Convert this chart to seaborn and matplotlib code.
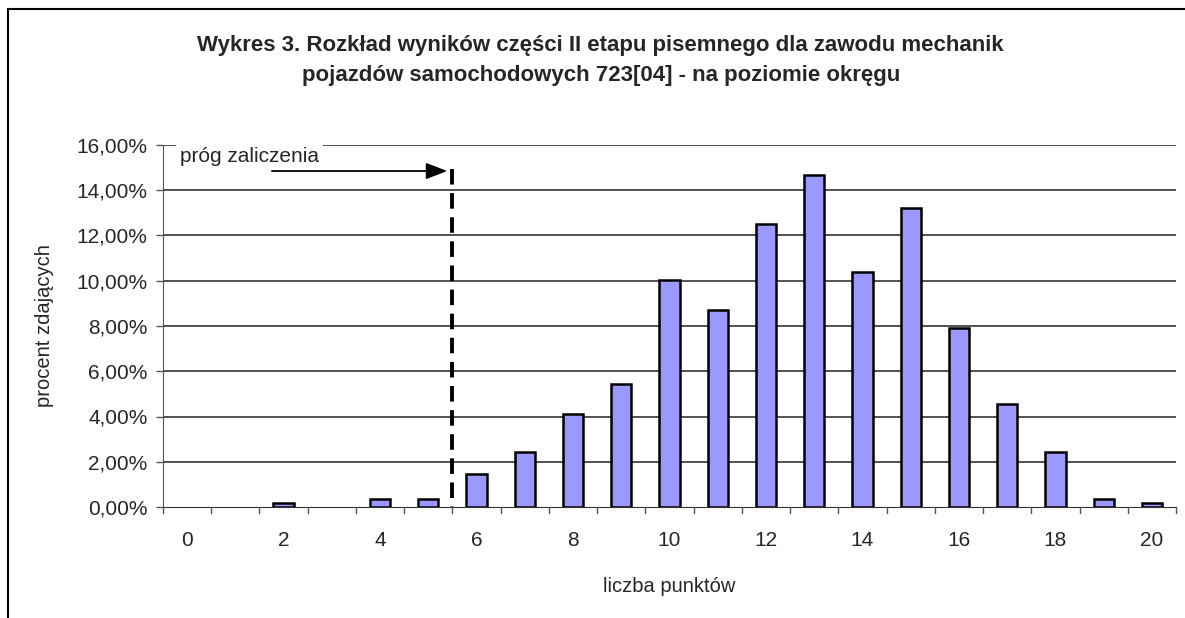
import seaborn as sns
import matplotlib.pyplot as plt
import pandas as pd
from matplotlib.lines import Line2D

points = list(range(21))
percent = [0, 0, 0.18, 0, 0.36, 0.36, 1.47, 2.44, 4.11, 5.45, 10.03,
           8.70, 12.50, 14.69, 10.38, 13.20, 7.92, 4.57, 2.45, 0.36, 0.18]
y_ticks = [0, 2, 4, 6, 8, 10, 12, 14, 16]
x_labels = [str(p) if p % 2 == 0 else "" for p in points]
pass_threshold = 5.5

df = pd.DataFrame({"pkt": points, "proc": percent})

sns.set_style("white")
plt.rcParams["font.family"] = ["Liberation Sans", "DejaVu Sans"]

fig = plt.figure(figsize=(11.85, 6.18), dpi=100)
ax = fig.add_axes([163 / 1185, 1 - 507 / 618, 1013 / 1185, 362 / 618])

sns.barplot(data=df, x="pkt", y="proc", color="#9999FF", saturation=1,
            width=0.42, edgecolor="black", linewidth=1.8, ax=ax, zorder=3)
# empty classes have no visible bar
for bar in ax.patches:
    if bar.get_height() == 0:
        bar.set_visible(False)

ax.set_ylim(0, 16)
ax.set_xlim(-0.5, 20.5)
ax.set_yticks(y_ticks)
ax.set_yticklabels([f"{v:.2f}%".replace(".", ",") for v in y_ticks], fontsize=15)
ax.set_xticks(points)
ax.set_xticklabels(x_labels, fontsize=15)
ax.tick_params(axis="x", length=0, pad=17)
ax.tick_params(axis="y", left=True, length=5, width=1, color="#555555", pad=6)
# tick marks between categories
for b in [p - 0.5 for p in points] + [20.5]:
    ax.plot([b, b], [0, -0.25], color="#555555", lw=1, clip_on=False, zorder=4)

for v in y_ticks[1:]:
    ax.axhline(v, color="#222222", lw=1.1, zorder=1)

for side in ["top", "right"]:
    ax.spines[side].set_visible(False)
ax.spines["left"].set_color("#555555")
ax.spines["bottom"].set_color("#333333")

ax.set_xlabel("liczba punktów", fontsize=14.5, labelpad=20)
ax.set_ylabel("procent zdających", fontsize=14.5, labelpad=16)

# threshold line and annotation
ax.plot([pass_threshold, pass_threshold], [14.95, 0], color="black", lw=2.8,
        ls=(0, (4, 2.2)), zorder=4)
ax.annotate("", xy=(pass_threshold - 0.05, 14.85), xytext=(1.7, 14.85),
            arrowprops=dict(arrowstyle="-|>,head_length=1.3,head_width=0.5",
                            color="black", lw=1.3), zorder=5)
ax.text(-0.15, 15.5, "próg zaliczenia", fontsize=15, ha="left", va="center",
        bbox=dict(facecolor="white", edgecolor="none", pad=3), zorder=6)

fig.text(0.507, 1 - 45 / 618,
         "Wykres 3. Rozkład wyników części II etapu pisemnego dla zawodu mechanik",
         ha="center", va="center", fontsize=16, fontweight="bold")
fig.text(0.507, 1 - 76 / 618,
         "pojazdów samochodowych 723[04] - na poziomie okręgu",
         ha="center", va="center", fontsize=16, fontweight="bold")

# outer chart frame (left and top edges)
fig.add_artist(Line2D([8 / 1185, 8 / 1185], [0, 1 - 9 / 618], color="black",
                      lw=1.5, transform=fig.transFigure))
fig.add_artist(Line2D([8 / 1185, 1], [1 - 9 / 618, 1 - 9 / 618], color="black",
                      lw=1.5, transform=fig.transFigure))

fig.savefig("out.png", dpi=100)
